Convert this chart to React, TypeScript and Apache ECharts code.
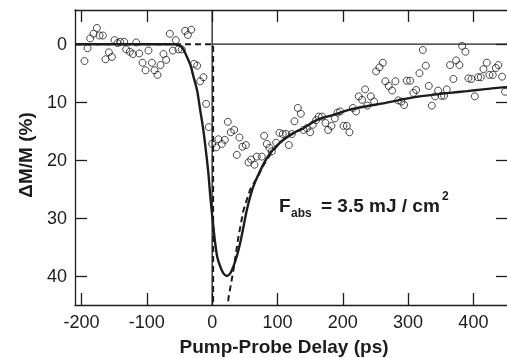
import React, { useEffect, useRef } from "react";
import * as echarts from "echarts";

// Measured data points (pump-probe delay in ps, ΔM/M in %)
const delayPs = [
  -195.5, -190.8, -186.7, -181.7, -176.5, -172.5, -167.3, -163.3, -158.1, -153.5,
  -149.5, -144.9, -140.8, -134.7, -131.6, -126, -121.4, -116.3, -111.7, -106.6,
  -102, -97.5, -92.3, -88.3, -83.7, -79.1, -74.5, -70.4, -64.8, -60.2,
  -55.6, -51.6, -46.4, -41.3, -37.2, -32.1, -27.6, -23, -18.4, -13.3,
  -9.2, -5.1, 0, 6.1, 9.7, 14.8, 19.4, 24.0, 28.6, 33.7,
  37.7, 41.8, 46.4, 51.6, 55.6, 59.7, 64.8, 68.4, 76, 79.6,
  83.7, 87.7, 91.4, 98, 103, 108.2, 113.3, 117.4, 122, 126,
  131.2, 135.8, 139.8, 145, 150, 154.1, 159.2, 163.3, 168.4, 173.5,
  177.6, 182.7, 187.8, 191.9, 196, 201.1, 206.2, 210.2, 215.4, 220.4,
  224.5, 229.6, 234.2, 237.7, 242.9, 248, 251, 256.1, 261.3, 265.3,
  270.4, 275.5, 280.6, 284.7, 289.8, 294, 298, 303.1, 308.2, 312.3,
  317.4, 322.5, 327.1, 331.7, 336.3, 341.4, 346, 351, 355.1, 359.2,
  364.3, 369.4, 373.5, 378.6, 382.7, 387.8, 392.4, 397, 402.2, 407.2,
  411.3, 415.4, 420.5, 424.5, 429.7, 434.3, 438.3, 443.9, 448.5,
];
const dmPct = [
  2.9, 0.7, -1.0, -1.8, -2.8, -1.5, -1.5, 2.6, 1.4, 2.2,
  -0.7, -0.2, -0.4, -0.4, 0.9, 1.3, 1.7, -0.3, 1.6, 3.2,
  4.5, 1.1, 3.2, 4.5, 5.3, 3.6, 1.7, 2.7, -1.8, 1.1,
  -0.7, 0.9, 0.9, -2.3, -1.6, -2.5, 3.4, 3.7, 6.4, 5.7,
  10.3, 14.3, 17.2, 17.8, 16.4, 17.2, 16.5, 13.4, 15.2, 14.8,
  19.1, 16.1, 17.7, 17.4, 20.4, 19.9, 20.8, 19.4, 19.4, 15.8,
  17.2, 17.9, 18.5, 17.0, 15.3, 15.5, 15.5, 17.4, 15.5, 13.3,
  11.0, 12.0, 14.8, 14.5, 15.2, 13.9, 13.1, 12.5, 12.5, 13.6,
  14.8, 14.1, 12.8, 11.8, 11.6, 14.1, 14.1, 15.2, 11.0, 11.6,
  9.0, 9.6, 7.8, 10.6, 9.0, 9.9, 4.7, 4.0, 3.2, 6.4,
  7.2, 8.0, 6.4, 9.7, 9.9, 10.5, 6.3, 6.3, 8.4, 7.9,
  5.0, 1.0, 3.7, 7.2, 10.6, 9.0, 8.0, 8.9, 8.9, 7.8,
  3.6, 6.0, 2.8, 3.6, 0.3, 1.3, 5.9, 6.0, 9.0, 5.7,
  5.7, 4.3, 3.2, 5.3, 5.3, 4.1, 3.6, 5.6, 8.2,
];

// Fit curve (solid)
const fitT = [
  -210, -60, -50, -45, -39, -33, -28.6, -23, -18.4, -14, -10.5, -6, -3, 0,
  4.6, 8, 12.2, 17, 22.5, 28, 32.7, 38, 42.9, 48, 53.1, 58, 63.3, 70.9,
  80, 88.8, 100, 109, 125, 139.8, 160, 185.7, 211, 237, 262, 288, 313,
  340, 364, 390, 415, 440, 453,
];
const fitV = [
  0, 0, 0.2, 0.7, 2.1, 3.7, 5.6, 8.0, 11.3, 14.4, 17.5, 22, 26, 29.5,
  34.3, 36.8, 38.3, 39.5, 40, 39.5, 38.3, 36.5, 34.3, 31.5, 28.6, 26.4, 24.5, 22.5,
  20.4, 18.8, 17.4, 16.5, 15.3, 14.5, 13.1, 12.2, 11.3, 10.7, 10.2, 9.6, 9.1,
  8.7, 8.4, 8.1, 7.8, 7.5, 7.4,
];

// Model curve (dashed) before convolution
const modelT = [-210, 1.5, 1.5, 23, 25, 32.7, 40.3, 48, 58.2, 70.9, 80, 90, 100, 109, 125, 140];
const modelV = [0, 0, 47, 47, 43.8, 38.9, 33.2, 28.6, 25.1, 22.6, 20.6, 18.9, 17.5, 16.5, 15.3, 14.5];

const xTicks = [-200, -100, 0, 100, 200, 300, 400];
const yTicks = [0, 10, 20, 30, 40];
const xRange = [-210, 453];
const yRange = [-5.9, 45];

const xTitle = "Pump-Probe Delay (ps)";
const yTitle = "ΔM/M (%)";

const INK = "#1c1c1c";
const FONT = "'Liberation Sans', Arial, Helvetica, sans-serif";

export default function App() {
  const ref = useRef<HTMLDivElement>(null);

  useEffect(() => {
    document.body.style.margin = "0";
    if (!ref.current) return;
    const chart = echarts.init(ref.current, undefined, { renderer: "svg" });

    const axisLine = { show: true, onZero: false, lineStyle: { color: INK, width: 1.3 } };
    const tick = (vals: number[]) => ({
      show: true,
      inside: true,
      length: 12,
      customValues: vals,
      lineStyle: { color: INK, width: 1.3 },
    });

    const scatter = delayPs.map((t, i) => [t, dmPct[i]]);
    const fit = fitT.map((t, i) => [t, fitV[i]]);
    const model = modelT.map((t, i) => [t, modelV[i]]);

    const textStyle = (text: string, size: number, align: string) => ({
      text,
      fontSize: size,
      fontWeight: "bold",
      fontFamily: FONT,
      fill: INK,
      textAlign: align,
      textVerticalAlign: "middle",
    });

    chart.setOption({
      animation: false,
      grid: { left: 75, top: 10, width: 433, height: 295, containLabel: false },
      xAxis: [
        {
          type: "value",
          position: "bottom",
          min: xRange[0],
          max: xRange[1],
          axisLine,
          axisTick: tick(xTicks),
          splitLine: { show: false },
          axisLabel: {
            customValues: xTicks,
            margin: 8,
            color: INK,
            fontSize: 18,
            fontFamily: FONT,
          },
        },
        {
          type: "value",
          position: "top",
          min: xRange[0],
          max: xRange[1],
          axisLine,
          axisTick: tick(xTicks),
          splitLine: { show: false },
          axisLabel: { show: false },
        },
      ],
      yAxis: [
        {
          type: "value",
          position: "left",
          inverse: true,
          min: yRange[0],
          max: yRange[1],
          axisLine,
          axisTick: tick(yTicks),
          splitLine: { show: false },
          axisLabel: {
            customValues: yTicks,
            margin: 8,
            color: INK,
            fontSize: 18,
            fontFamily: FONT,
          },
        },
        {
          type: "value",
          position: "right",
          inverse: true,
          min: yRange[0],
          max: yRange[1],
          axisLine,
          axisTick: tick(yTicks),
          splitLine: { show: false },
          axisLabel: { show: false },
        },
      ],
      series: [
        {
          type: "line",
          name: "zero",
          data: [[0, 0], [xRange[1], 0]],
          symbol: "none",
          lineStyle: { color: INK, width: 1.3 },
          silent: true,
        },
        {
          type: "line",
          name: "t0",
          data: [[0, yRange[0]], [0, yRange[1]]],
          symbol: "none",
          lineStyle: { color: INK, width: 1.3 },
          silent: true,
        },
        {
          type: "line",
          name: "model",
          data: model,
          symbol: "none",
          clip: true,
          lineStyle: { color: INK, width: 2, type: [6, 4] },
        },
        {
          type: "line",
          name: "fit",
          data: fit,
          symbol: "none",
          smooth: 0.3,
          clip: true,
          lineStyle: { color: INK, width: 2.4 },
        },
        {
          type: "scatter",
          name: "data",
          data: scatter,
          symbol: "circle",
          symbolSize: 7,
          itemStyle: { color: "transparent", borderColor: INK, borderWidth: 1 },
        },
      ],
      graphic: [
        { type: "text", x: 284, y: 346, style: textStyle(xTitle, 19, "center") },
        { type: "text", x: 25, y: 155, rotation: Math.PI / 2, style: textStyle(yTitle, 19, "center") },
        { type: "text", x: 279, y: 205, style: textStyle("F", 19, "left") },
        { type: "text", x: 291, y: 212.5, style: textStyle("abs", 12, "left") },
        { type: "text", x: 321, y: 205, style: textStyle("= 3.5 mJ / cm", 19, "left") },
        { type: "text", x: 442, y: 195.5, style: textStyle("2", 12, "left") },
      ],
    });

    return () => chart.dispose();
  }, []);

  return (
    <div
      ref={ref}
      style={{ position: "fixed", left: 0, top: 0, width: 510, height: 358 }}
    />
  );
}
